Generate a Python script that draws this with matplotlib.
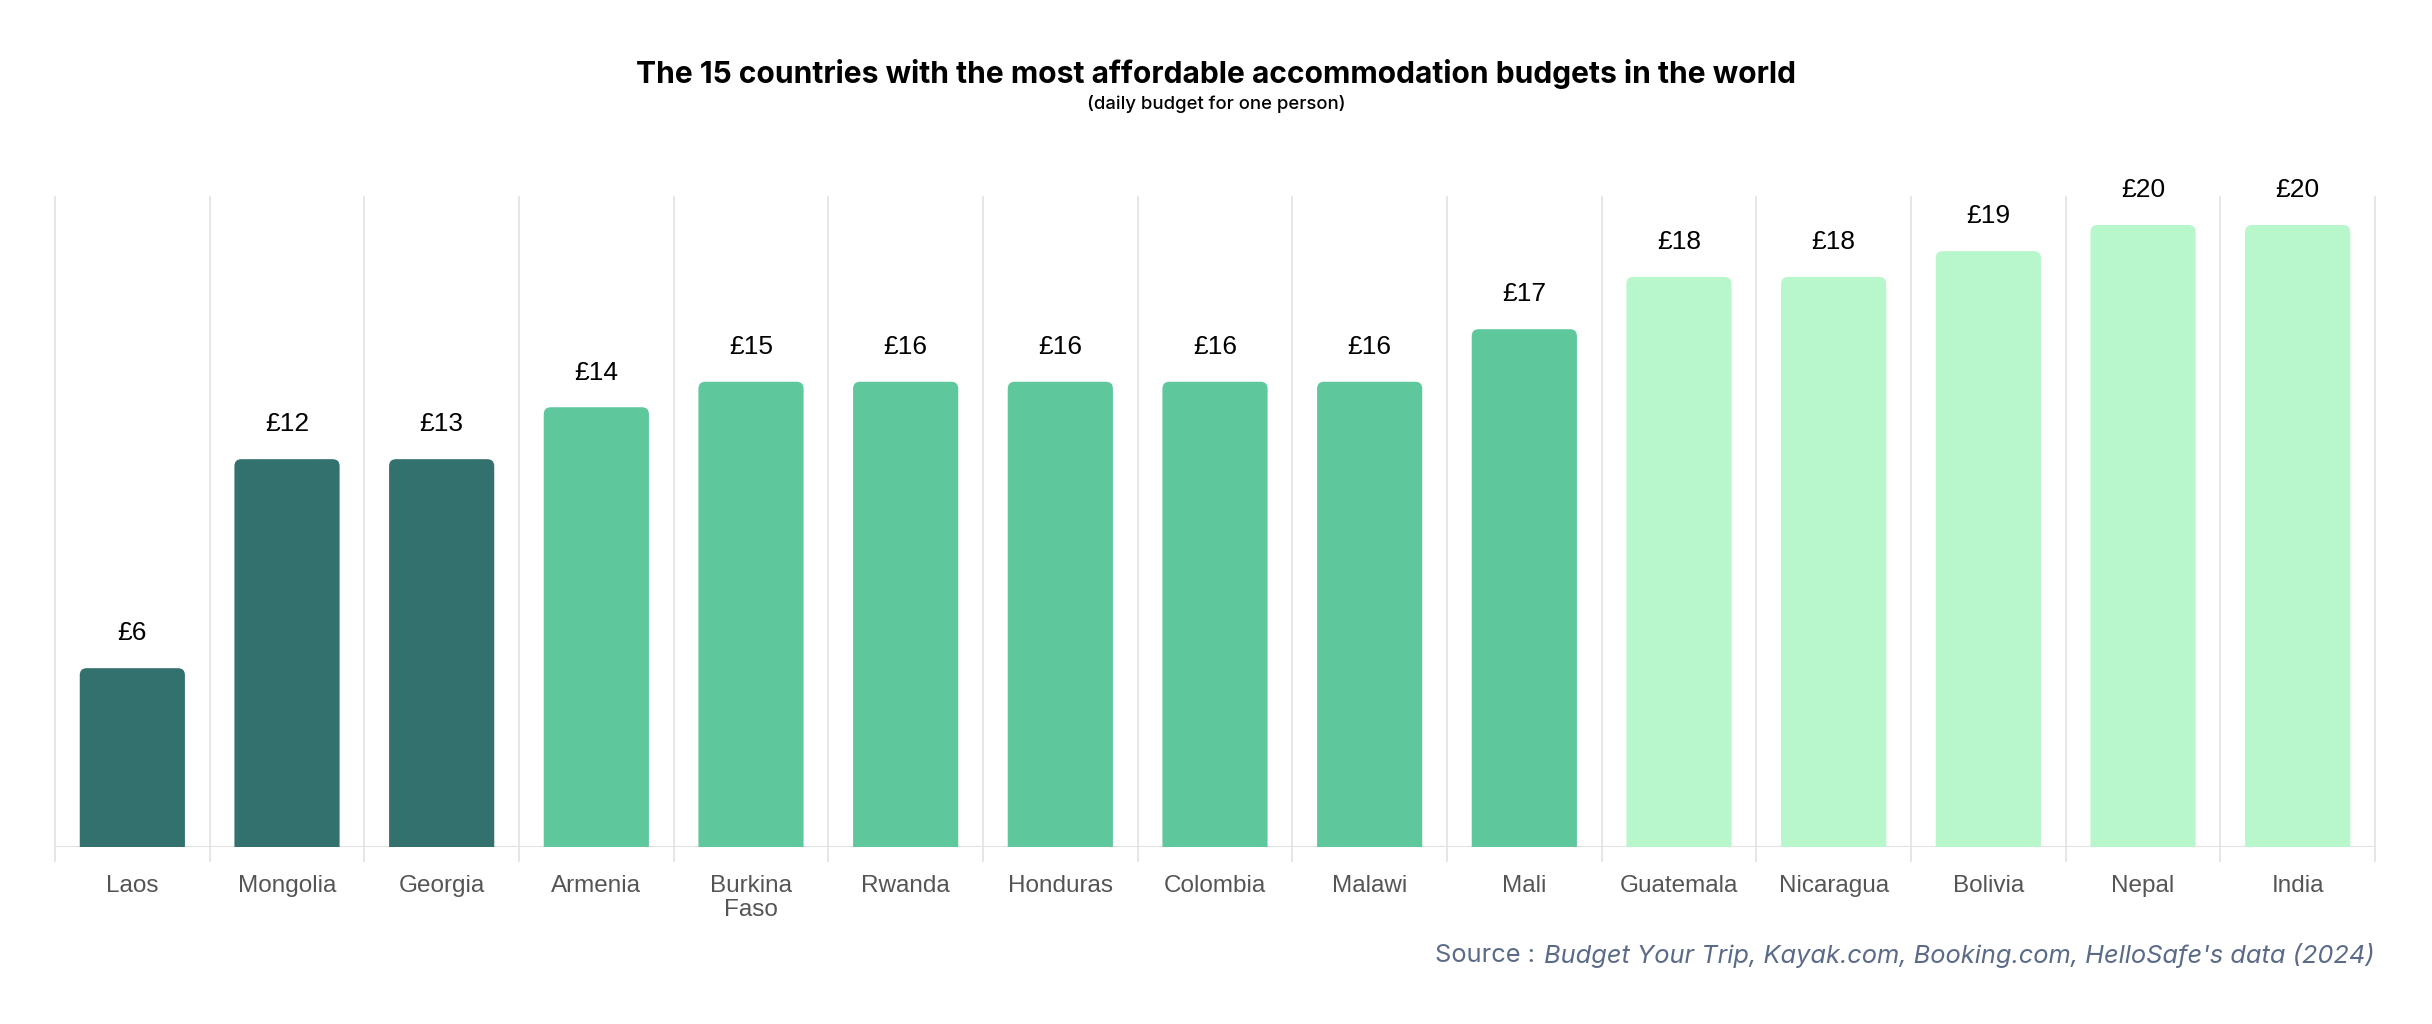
import numpy as np
import matplotlib.pyplot as plt
from matplotlib.patches import FancyBboxPatch

countries = ['Laos', 'Mongolia', 'Georgia', 'Armenia', 'Burkina\nFaso', 'Rwanda',
             'Honduras', 'Colombia', 'Malawi', 'Mali', 'Guatemala', 'Nicaragua',
             'Bolivia', 'Nepal', 'India']
budget = [5.75, 12.47, 12.47, 14.14, 14.96, 14.96, 14.96, 14.96, 14.96, 16.65,
          18.33, 18.33, 19.16, 20.0, 20.0]
labels = ['£6', '£12', '£13', '£14', '£15', '£16', '£16', '£16', '£16', '£17',
          '£18', '£18', '£19', '£20', '£20']
group = [0, 0, 0, 1, 1, 1, 1, 1, 1, 1, 2, 2, 2, 2, 2]
colors = ['#33716F', '#5FC79C', '#B8F7CC']

W, H = 2432, 1024
fig = plt.figure(figsize=(W/100, H/100), dpi=100)
left, right, bottom, top = 55, 2375, 847, 197
ax = fig.add_axes([left/W, (H-bottom)/H, (right-left)/W, (bottom-top)/H])

ytop = 20.0 * 650 / 622
ax.set_xlim(-0.5, len(countries) - 0.5)
ax.set_ylim(0, ytop)

# pixel ratio for rounded corners
px_x = (right - left) / len(countries)
px_y = (bottom - top) / ytop
aspect = px_x / px_y

bw = 0.68
for i, v in enumerate(budget):
    p = FancyBboxPatch((i - bw/2, -1), bw, v + 1,
                       boxstyle="round,pad=0,rounding_size=0.045",
                       mutation_aspect=aspect, fc=colors[group[i]], ec='none', zorder=3)
    ax.add_patch(p)
    ax.annotate(labels[i], (i, v), xytext=(0, 25), textcoords='offset points',
                ha='center', va='center', fontsize=19, family='Liberation Sans',
                color='black')

# separators
for k in range(len(countries) + 1):
    ax.axvline(k - 0.5, ymin=-0.022, ymax=1, color='#E2E2E2', lw=1.2, clip_on=False, zorder=1)
ax.axhline(0, color='#E2E2E2', lw=2.2, zorder=2)

ax.set_xticks(range(len(countries)))
ax.set_xticklabels(countries, fontsize=17.5, family='Liberation Sans', color='#555555',
                   linespacing=1.1, va='top')
ax.tick_params(axis='x', length=0, pad=20.5)
ax.set_yticks([])
for s in ax.spines.values():
    s.set_visible(False)

fig.text(1216/W, 1 - 74/H, 'The 15 countries with the most affordable accommodation budgets in the world',
         ha='center', va='center', fontsize=21.6, fontweight='bold', family='Inter', color='black')
fig.text(1216/W, 1 - 104/H, '(daily budget for one person)', ha='center', va='center',
         fontsize=13.3, family='Inter', fontweight='medium', color='black')

# source line, italic part right aligned then prefix
src = fig.text(right/W, 1 - 956/H, "Budget Your Trip, Kayak.com, Booking.com, HelloSafe's data (2024)",
               ha='right', va='center', fontsize=18.3, style='italic', family='Inter', color='#5A6A88')
fig.canvas.draw()
bb = src.get_window_extent()
fig.text((bb.x0 - 9)/W, 1 - 956/H, 'Source :', ha='right', va='center', fontsize=18.3,
         family='Inter', color='#5A6A88')

plt.savefig('out.png', dpi=100)
